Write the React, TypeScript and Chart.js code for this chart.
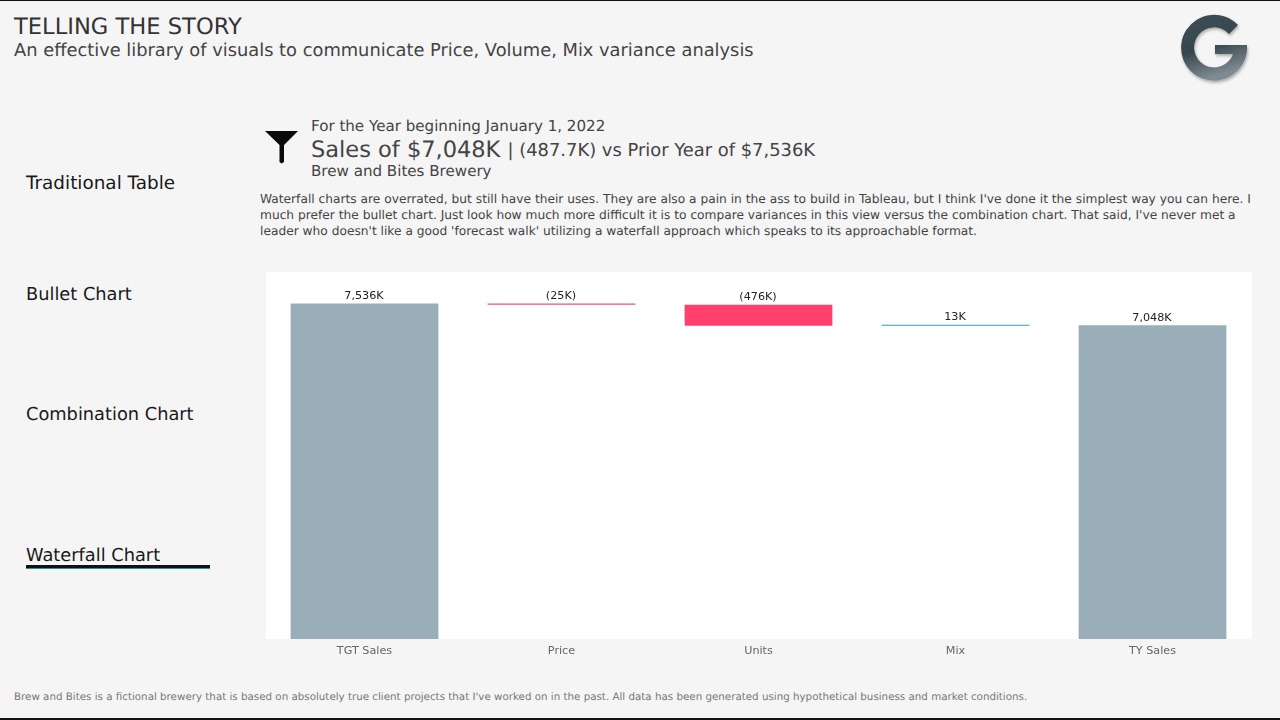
import { Chart, registerables } from "chart.js";
import { useEffect, useRef } from "react";
import type { CSSProperties } from "react";

Chart.register(...registerables);

const categories = ["TGT Sales", "Price", "Units", "Mix", "TY Sales"];
const barStarts = [0, 7536, 7511, 7035, 0];
const barEnds = [7536, 7511, 7035, 7048, 7048];
const barLabels = ["7,536K", "(25K)", "(476K)", "13K", "7,048K"];
const barColors = ["#99aeb8", "#e8507c", "#ff3f6c", "#2aa3b5", "#99aeb8"];
const navItems = ["Traditional Table", "Bullet Chart", "Combination Chart", "Waterfall Chart"];
const navTops = [173, 284, 404, 545];

const FONT = "'DejaVu Sans', sans-serif";

// small plugin, draws the value label over each bar
const barLabelPlugin = {
  id: "barLabels",
  afterDatasetsDraw(chart: Chart) {
    const { ctx } = chart;
    const meta = chart.getDatasetMeta(0);
    ctx.save();
    ctx.font = `11.2px ${FONT}`;
    ctx.fillStyle = "#222";
    ctx.textAlign = "center";
    ctx.textBaseline = "bottom";
    meta.data.forEach((bar: any, i: number) => {
      const top = Math.min(bar.y, bar.base);
      ctx.fillText(barLabels[i], bar.x - 0.5, top - 2);
    });
    ctx.restore();
  },
};

const text = (
  left: number,
  top: number,
  size: number,
  color: string,
  extra?: CSSProperties,
): CSSProperties => ({
  position: "absolute",
  left,
  top,
  fontSize: size,
  color,
  lineHeight: 1.2,
  whiteSpace: "nowrap",
  textRendering: "geometricPrecision",
  ...extra,
});

const App = () => {
  const canvasRef = useRef<HTMLCanvasElement | null>(null);

  useEffect(() => {
    if (!canvasRef.current) return;
    const chart = new Chart(canvasRef.current, {
      type: "bar",
      data: {
        labels: categories,
        datasets: [
          {
            data: categories.map((_, i) => [barStarts[i], barEnds[i]]) as any,
            backgroundColor: barColors,
            categoryPercentage: 1,
            barPercentage: 0.75,
            minBarLength: 1,
          },
        ],
      },
      options: {
        animation: false,
        responsive: true,
        maintainAspectRatio: false,
        layout: { padding: 0 },
        plugins: { legend: { display: false }, tooltip: { enabled: false } },
        scales: {
          x: {
            grid: { display: false, drawTicks: false },
            border: { display: false },
            ticks: {
              color: "#666",
              padding: 5,
              font: { family: FONT, size: 11.2 },
              maxRotation: 0,
            },
            afterFit: (axis: any) => {
              axis.height = 25;
            },
          },
          y: { display: false, min: 0, max: 8245 },
        },
      },
      plugins: [barLabelPlugin],
    });
    return () => chart.destroy();
  }, []);

  return (
    <div
      style={{
        position: "fixed",
        inset: 0,
        width: 1280,
        height: 720,
        background: "#f5f5f5",
        fontFamily: FONT,
        overflow: "hidden",
      }}
    >
      <div style={{ position: "absolute", left: 0, top: 0, width: 1280, height: 1, background: "#111" }} />
      <div style={{ position: "absolute", left: 0, top: 718, width: 1280, height: 2, background: "#111" }} />

      <div style={text(14, 14, 22.6, "#333")}>TELLING THE STORY</div>
      <div style={text(14, 40, 17.83, "#444")}>
        An effective library of visuals to communicate Price, Volume, Mix variance analysis
      </div>

      <svg style={{ position: "absolute", left: 1170, top: 5 }} width={90} height={85} viewBox="0 0 90 85">
        <defs>
          <linearGradient id="logoFill" x1="0" y1="0" x2="0.3" y2="1">
            <stop offset="0" stopColor="#3f4f58" />
            <stop offset="0.55" stopColor="#36454d" />
            <stop offset="1" stopColor="#7f8b91" />
          </linearGradient>
          <filter id="logoShadow" x="-20%" y="-20%" width="140%" height="140%">
            <feDropShadow dx="1" dy="2" stdDeviation="1.5" floodColor="#000" floodOpacity="0.3" />
          </filter>
        </defs>
        <path
          filter="url(#logoShadow)"
          fill="url(#logoFill)"
          d="M 68 20 A 33 33 0 1 0 77 45 L 77 40 L 45 40 L 45 49 L 63 49 A 20 20 0 1 1 59 29 Z"
        />
      </svg>

      {navItems.map((item, i) => (
        <div key={item} style={text(26, navTops[i], i === 0 ? 18.4 : 17.8, "#1a1a1a")}>
          {item}
        </div>
      ))}
      <div style={{ position: "absolute", left: 26, top: 565, width: 184, height: 4, background: "#111", borderBottom: "1px solid #2a8fa0", boxSizing: "border-box" }} />

      <svg style={{ position: "absolute", left: 264, top: 130 }} width={36} height={36} viewBox="0 0 36 36">
        <path d="M 1 1 L 34 1 L 20 15 L 20 32 L 17.5 33.5 L 15.5 32 L 15.5 15 Z" fill="#0a0a0a" />
      </svg>

      <div style={text(311, 117, 15.1, "#444")}>For the Year beginning January 1, 2022</div>
      <div style={text(311, 137, 22.5, "#444")}>
        Sales of $7,048K{" "}
        <span style={{ fontSize: 17.9, position: "relative", top: -1 }}>| (487.7K) vs Prior Year of $7,536K</span>
      </div>
      <div style={text(311, 162, 15.1, "#444")}>Brew and Bites Brewery</div>

      <div style={text(260, 191, 12.22, "#444", { lineHeight: "16px" })}>
        Waterfall charts are overrated, but still have their uses. They are also a pain in the ass to build in Tableau, but I think I've done it the simplest way you can here. I
        <br />
        much prefer the bullet chart. Just look how much more difficult it is to compare variances in this view versus the combination chart. That said, I've never met a
        <br />
        leader who doesn't like a good 'forecast walk' utilizing a waterfall approach which speaks to its approachable format.
      </div>

      <div style={{ position: "absolute", left: 266, top: 272, width: 986, height: 367, background: "#fff" }} />
      <div style={{ position: "absolute", left: 266, top: 272, width: 985, height: 392 }}>
        <canvas ref={canvasRef} />
      </div>

      <div style={text(14, 691, 10.3, "#777")}>
        Brew and Bites is a fictional brewery that is based on absolutely true client projects that I've worked on in the past. All data has been generated using hypothetical business and market conditions.
      </div>
    </div>
  );
};

export default App;
